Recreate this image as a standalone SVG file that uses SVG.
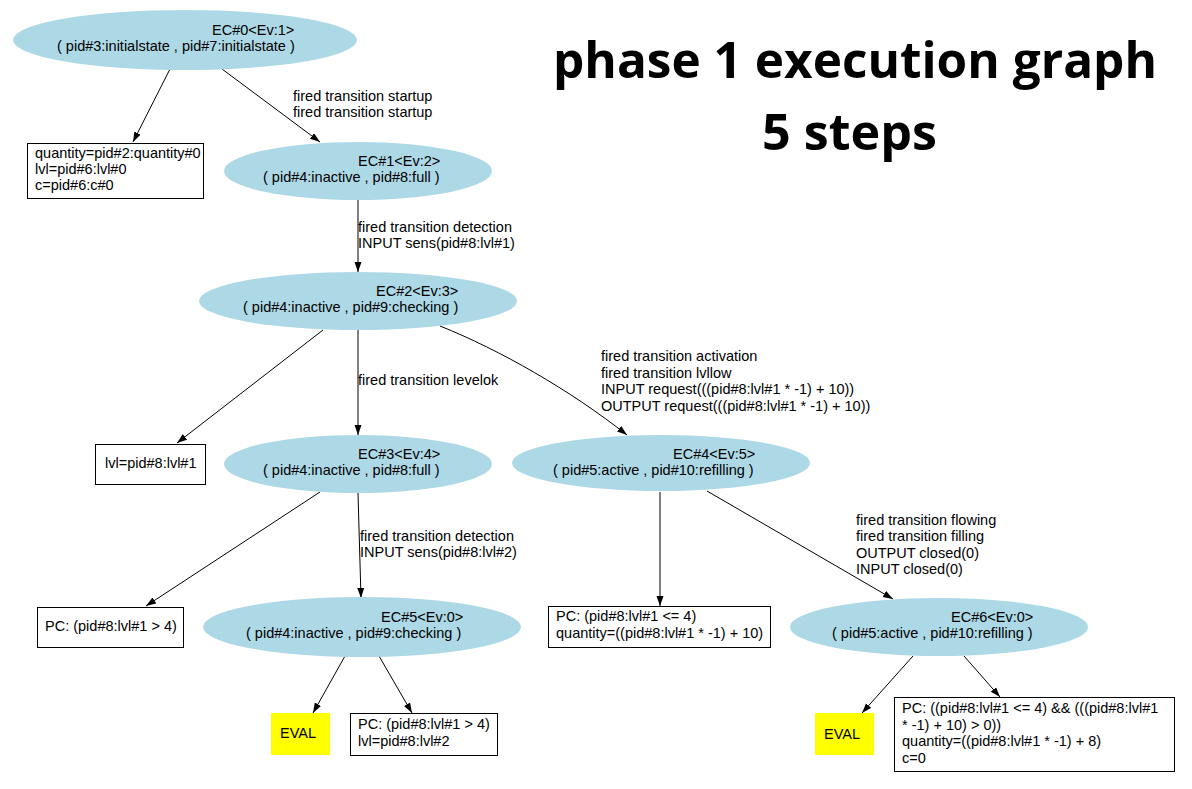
<svg xmlns="http://www.w3.org/2000/svg" width="1192" height="789" viewBox="0 0 1192 789">
<style>
.t{font-family:"Liberation Sans",Arial,sans-serif;font-size:14.5px;fill:#000}
.ell{fill:#ADD8E6;stroke:none}
.box{fill:#fff;stroke:#000;stroke-width:1}
.eval{fill:#FFFF00;stroke:none}
.edge{fill:none;stroke:#000;stroke-width:1}
.title{font-family:"Open Sans","Liberation Sans",sans-serif;font-weight:700;font-size:50px;fill:#000}
</style>
<defs>
<marker id="arr" markerWidth="10" markerHeight="8" refX="10" refY="3.5" orient="auto" markerUnits="userSpaceOnUse">
<path d="M0,0 L10,3.5 L0,7 z" fill="#000"/>
</marker>
</defs>
<rect width="1192" height="789" fill="#fff"/>

<g id="connectors">
<path class="edge" d="M170,69 L133,142" marker-end="url(#arr)"/>
<path class="edge" d="M222,69 L320,142" marker-end="url(#arr)"/>
<text class="t" x="293" y="101">fired transition startup</text>
<text class="t" x="293" y="117">fired transition startup</text>
<path class="edge" d="M358,200 L358,272" marker-end="url(#arr)"/>
<text class="t" x="358" y="232">fired transition detection</text>
<text class="t" x="358" y="248">INPUT sens(pid#8:lvl#1)</text>
<path class="edge" d="M323,330 L177,443" marker-end="url(#arr)"/>
<path class="edge" d="M358,330 L358,435" marker-end="url(#arr)"/>
<text class="t" x="358" y="385">fired transition levelok</text>
<path class="edge" d="M440,326 C500,350 570,390 627,435" marker-end="url(#arr)"/>
<text class="t" x="601" y="361">fired transition activation</text>
<text class="t" x="601" y="378">fired transition lvllow</text>
<text class="t" x="601" y="394">INPUT request(((pid#8:lvl#1 * -1) + 10))</text>
<text class="t" x="601" y="411">OUTPUT request(((pid#8:lvl#1 * -1) + 10))</text>
<path class="edge" d="M320,492 L146,606" marker-end="url(#arr)"/>
<path class="edge" d="M358,493 L361,598" marker-end="url(#arr)"/>
<text class="t" x="360" y="541">fired transition detection</text>
<text class="t" x="360" y="557">INPUT sens(pid#8:lvl#2)</text>
<path class="edge" d="M660,492 L660,606" marker-end="url(#arr)"/>
<path class="edge" d="M707,491 L893,599" marker-end="url(#arr)"/>
<text class="t" x="856" y="525">fired transition flowing</text>
<text class="t" x="856" y="541">fired transition filling</text>
<text class="t" x="856" y="558">OUTPUT closed(0)</text>
<text class="t" x="856" y="574">INPUT closed(0)</text>
<path class="edge" d="M345,656 L313,713" marker-end="url(#arr)"/>
<path class="edge" d="M379,656 L412,713" marker-end="url(#arr)"/>
<path class="edge" d="M913,656 L862,713" marker-end="url(#arr)"/>
<path class="edge" d="M964,656 L1000,697" marker-end="url(#arr)"/>
</g>

<g id="ec0">
<ellipse class="ell" cx="185" cy="40" rx="172" ry="30"/>
<text class="t" x="212" y="35">EC#0&lt;Ev:1&gt;</text>
<text class="t" x="57" y="51">( pid#3:initialstate , pid#7:initialstate )</text>
</g>
<g id="box0">
<rect class="box" x="27.5" y="143.5" width="176" height="55"/>
<text class="t" x="35" y="158">quantity=pid#2:quantity#0</text>
<text class="t" x="35" y="174">lvl=pid#6:lvl#0</text>
<text class="t" x="35" y="190">c=pid#6:c#0</text>
</g>
<g id="ec1">
<ellipse class="ell" cx="358" cy="171" rx="134" ry="29"/>
<text class="t" x="358" y="166">EC#1&lt;Ev:2&gt;</text>
<text class="t" x="263" y="182">( pid#4:inactive , pid#8:full )</text>
</g>
<g id="ec2">
<ellipse class="ell" cx="358" cy="301" rx="159" ry="29"/>
<text class="t" x="376" y="296">EC#2&lt;Ev:3&gt;</text>
<text class="t" x="243" y="312">( pid#4:inactive , pid#9:checking )</text>
</g>
<g id="box1">
<rect class="box" x="95.5" y="444.5" width="110" height="40"/>
<text class="t" x="105" y="468">lvl=pid#8:lvl#1</text>
</g>
<g id="ec3">
<ellipse class="ell" cx="358" cy="464" rx="134" ry="29"/>
<text class="t" x="358" y="459">EC#3&lt;Ev:4&gt;</text>
<text class="t" x="263" y="475">( pid#4:inactive , pid#8:full )</text>
</g>
<g id="ec4">
<ellipse class="ell" cx="661" cy="463" rx="149" ry="28"/>
<text class="t" x="673" y="459">EC#4&lt;Ev:5&gt;</text>
<text class="t" x="553" y="475">( pid#5:active , pid#10:refilling )</text>
</g>
<g id="box2">
<rect class="box" x="37.5" y="607.5" width="146" height="40"/>
<text class="t" x="45" y="631">PC: (pid#8:lvl#1 &gt; 4)</text>
</g>
<g id="ec5">
<ellipse class="ell" cx="362" cy="627" rx="159" ry="30"/>
<text class="t" x="381" y="622">EC#5&lt;Ev:0&gt;</text>
<text class="t" x="246" y="638">( pid#4:inactive , pid#9:checking )</text>
</g>
<g id="box3">
<rect class="box" x="548.5" y="606.5" width="222" height="41"/>
<text class="t" x="556" y="621">PC: (pid#8:lvl#1 &lt;= 4)</text>
<text class="t" x="556" y="638">quantity=((pid#8:lvl#1 * -1) + 10)</text>
</g>
<g id="ec6">
<ellipse class="ell" cx="939" cy="627" rx="149" ry="29"/>
<text class="t" x="951" y="622">EC#6&lt;Ev:0&gt;</text>
<text class="t" x="832" y="638">( pid#5:active , pid#10:refilling )</text>
</g>
<g id="eval1">
<rect class="eval" x="271" y="713" width="59" height="42"/>
<text class="t" x="280" y="738">EVAL</text>
</g>
<g id="box4">
<rect class="box" x="350.5" y="713.5" width="147" height="42"/>
<text class="t" x="358" y="729">PC: (pid#8:lvl#1 &gt; 4)</text>
<text class="t" x="358" y="746">lvl=pid#8:lvl#2</text>
</g>
<g id="eval2">
<rect class="eval" x="815" y="713" width="59" height="42"/>
<text class="t" x="824" y="739">EVAL</text>
</g>
<g id="box5">
<rect class="box" x="894.5" y="697.5" width="280" height="74"/>
<text class="t" x="902" y="713">PC: ((pid#8:lvl#1 &lt;= 4) &amp;&amp; (((pid#8:lvl#1</text>
<text class="t" x="902" y="730">* -1) + 10) &gt; 0))</text>
<text class="t" x="902" y="746">quantity=((pid#8:lvl#1 * -1) + 8)</text>
<text class="t" x="902" y="763">c=0</text>
</g>

<g id="title">
<text class="title" x="553" y="78" textLength="604" lengthAdjust="spacingAndGlyphs">phase 1 execution graph</text>
<text class="title" x="762" y="150" textLength="175" lengthAdjust="spacingAndGlyphs">5 steps</text>
</g>
</svg>
